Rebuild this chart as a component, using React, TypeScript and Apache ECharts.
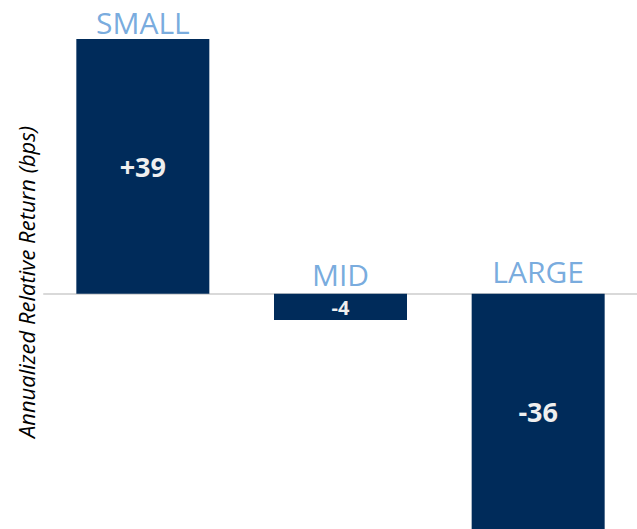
import React, { useEffect, useRef } from "react";
import * as echarts from "echarts";

const categories = ["SMALL", "MID", "LARGE"];
const values = [39, -4, -36];
const valueLabels = ["+39", "-4", "-36"];
const yTitle = "Annualized Relative Return (bps)";

export default function App() {
  const ref = useRef<HTMLDivElement>(null);
  useEffect(() => {
    if (!ref.current) return;
    const chart = echarts.init(ref.current, undefined, { renderer: "svg" });
    const font = "'Open Sans', 'Liberation Sans', sans-serif";
    const catLabelDistance = [3, 5, 8];
    chart.setOption({
      animation: false,
      backgroundColor: "#ffffff",
      grid: { left: 44, right: 0, top: 39, bottom: -3 },
      xAxis: {
        type: "category",
        data: categories,
        axisLine: { show: true, onZero: true, lineStyle: { color: "#D9D9D9", width: 2 } },
        axisTick: { show: false },
        axisLabel: { show: false },
        splitLine: { show: false },
      },
      yAxis: {
        type: "value",
        min: -36,
        max: 39,
        axisLine: { show: false },
        axisTick: { show: false },
        axisLabel: { show: false },
        splitLine: { show: false },
      },
      series: [
        {
          type: "bar",
          barWidth: 133,
          itemStyle: { color: "#002B5A" },
          data: values.map((v, i) => ({
            value: v,
            label: {
              show: true,
              position: "inside",
              formatter: valueLabels[i],
              color: "#EFEFEF",
              fontFamily: font,
              fontWeight: "bold",
              fontSize: Math.abs(v) < 10 ? 20 : 27,
              lineHeight: Math.abs(v) < 10 ? 16 : 30,
              offset: Math.abs(v) < 10 ? [0, 1] : [0, 0],
            },
          })),
        },
        {
          type: "scatter",
          symbolSize: 0,
          silent: true,
          data: values.map((v, i) => ({
            value: Math.max(v, 0),
            label: { distance: catLabelDistance[i] },
          })),
          label: {
            show: true,
            position: "top",
            formatter: (p: any) => categories[p.dataIndex],
            color: "#5596D6",
            fontFamily: font,
            fontSize: 30,
            lineHeight: 28,
          },
        },
      ],
      graphic: [
        {
          type: "text",
          x: 26,
          y: 282,
          rotation: Math.PI / 2,
          style: {
            text: yTitle,
            fontFamily: font,
            fontStyle: "italic",
            fontSize: 22,
            fill: "#000000",
            align: "center",
            verticalAlign: "middle",
          },
        },
      ],
    });
    return () => chart.dispose();
  }, []);
  return (
    <div
      ref={ref}
      style={{ position: "fixed", left: 0, top: 0, width: 637, height: 529 }}
    />
  );
}
